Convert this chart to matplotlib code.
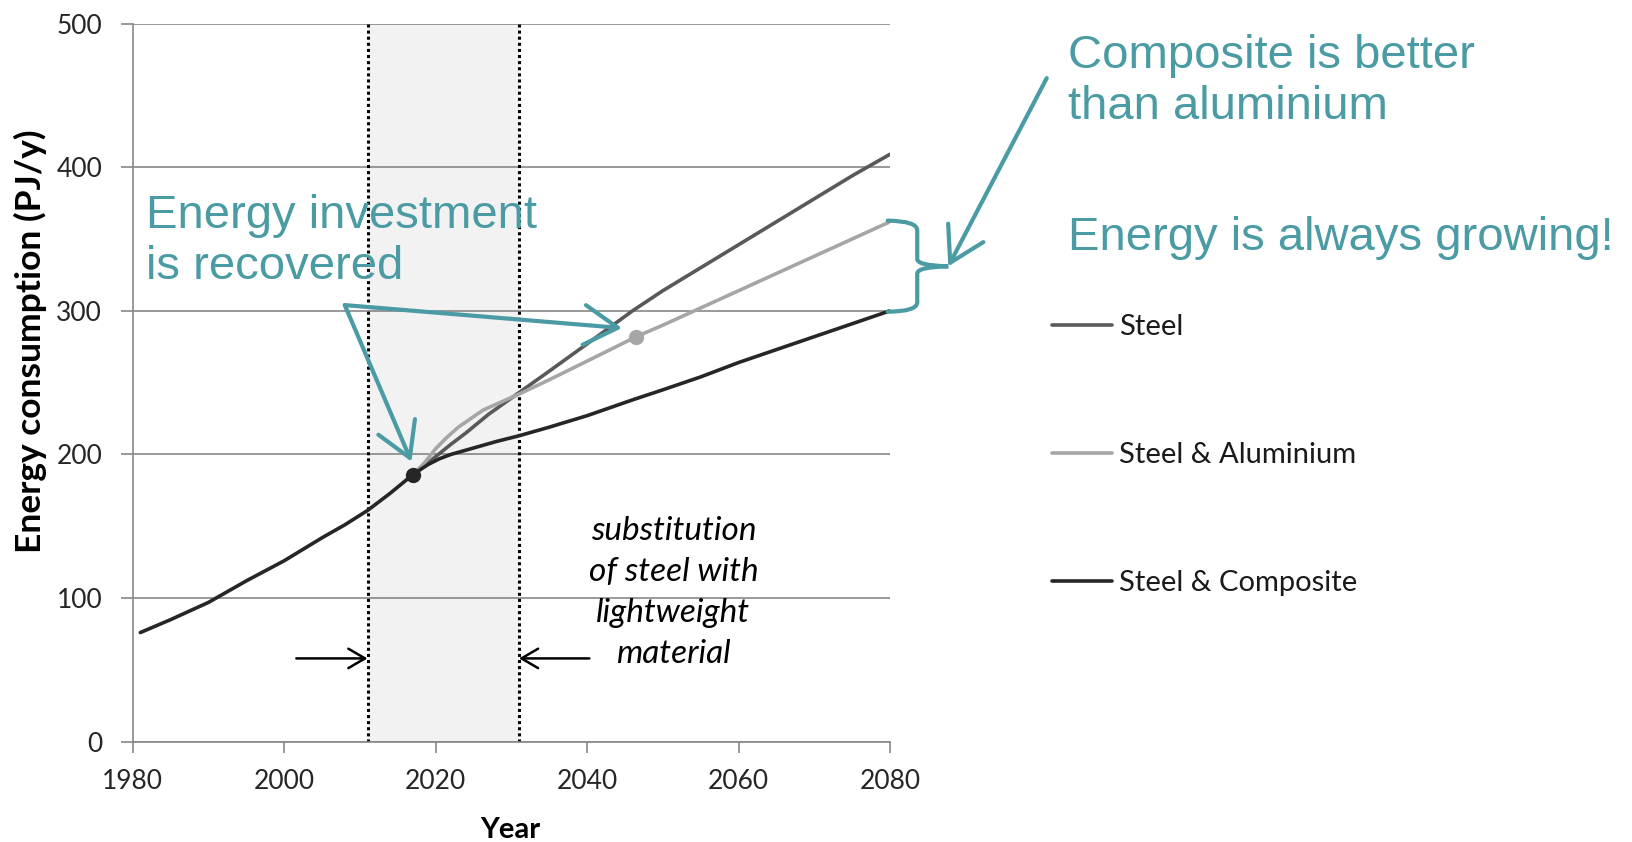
import numpy as np
import matplotlib
matplotlib.use("Agg")
from matplotlib import pyplot as plt
from matplotlib.path import Path
from matplotlib.patches import PathPatch

################################################################################
### Data
################################################################################

comp_years = [1981, 1985, 1990, 1995, 2000, 2005, 2008, 2011, 2014, 2017, 2019,
              2020.5, 2022, 2024, 2026, 2028, 2031, 2035, 2040, 2046, 2050, 2055,
              2060, 2065, 2070, 2075, 2080]
comp_vals = [76, 85, 97, 112, 126, 142, 151, 161, 173, 186, 193,
             197, 200, 203, 206, 209, 213, 219, 227, 238, 245, 254,
             264, 273, 282, 291, 300]

steel_years = [2017, 2018.5, 2020, 2022, 2024, 2027, 2031, 2035, 2040, 2046,
               2050, 2055, 2060, 2065, 2070, 2075, 2080]
steel_vals = [186, 192, 198.5, 207, 215, 228, 243, 258, 277, 300,
              314, 330, 346, 362, 378, 394, 409]

alu_years = [2017, 2018.5, 2020, 2021.5, 2023, 2026.3, 2031, 2035, 2040, 2046.5,
             2050, 2055, 2060, 2065, 2070, 2075, 2080]
alu_vals = [186, 194, 204, 212, 219, 231, 242, 252, 265, 282,
            290, 302, 314, 326, 338, 350, 362]

series_labels = ['Steel', 'Steel & Aluminium', 'Steel & Composite']

payback_comp = (2017, 186)
payback_alu = (2046.5, 282)

subst_start, subst_end = 2011, 2031

x_ticks = [1980, 2000, 2020, 2040, 2060, 2080]
y_ticks = [0, 100, 200, 300, 400, 500]

################################################################################
### Style
################################################################################

teal = '#4A9BA3'
grid_col = '#878787'
c_steel = '#595959'
c_alu = '#A6A6A6'
c_comp = '#262626'
label_font = 'Lato'

plt.rcParams.update({'font.family': label_font,
                     'xtick.labelsize': 19,
                     'ytick.labelsize': 19,
                     'xtick.color': grid_col,
                     'ytick.color': grid_col,
                     'xtick.labelcolor': '#262626',
                     'ytick.labelcolor': '#262626'})

fig = plt.figure(figsize=(16.33, 8.42), dpi=100)
ax = fig.add_axes([0.0813, 0.1191, 0.5450 - 0.0813, 0.972 - 0.1191])

# substitution period
ax.axvspan(subst_start, subst_end, color='#F2F2F2', zorder=0, lw=0)
for xv in (subst_start, subst_end):
    ax.axvline(xv, color='black', lw=2.2, ls=(0, (1, 1)), zorder=1)

# grid
ax.set_axisbelow(True)
ax.yaxis.grid(True, color=grid_col, lw=1.2)

l_steel, = ax.plot(steel_years, steel_vals, color=c_steel, lw=2.6, zorder=3,
                   solid_capstyle='round', solid_joinstyle='round')
l_alu, = ax.plot(alu_years, alu_vals, color=c_alu, lw=2.6, zorder=3,
                 solid_capstyle='round', solid_joinstyle='round')
l_comp, = ax.plot(comp_years, comp_vals, color=c_comp, lw=2.6, zorder=4,
                  solid_capstyle='round', solid_joinstyle='round')

ax.plot(*payback_comp, 'o', color=c_comp, ms=10, zorder=5)
ax.plot(*payback_alu, 'o', color=c_alu, ms=10, zorder=5)

ax.set_xlim(1980, 2080)
ax.set_ylim(0, 500)
ax.set_xticks(x_ticks)
ax.set_yticks(y_ticks)
for s in ('top', 'right'):
    ax.spines[s].set_visible(False)
for s in ('left', 'bottom'):
    ax.spines[s].set_color(grid_col)
    ax.spines[s].set_linewidth(1.2)
ax.tick_params(axis='y', length=9, width=1.2, pad=13)
ax.tick_params(axis='x', length=8, width=1.2, pad=12)

# axis labels
fig.text(30 / 1633, 1 - 341 / 842, 'Energy consumption (PJ/y)', rotation=90,
         ha='center', va='center', fontsize=25.5, fontweight='bold', color='black')
fig.text(510 / 1633, 1 - 830 / 842, 'Year', ha='center', va='center',
         fontsize=21, fontweight='bold', color='black')

# substitution note + arrows
ax.text(2051.4, 104, 'substitution\nof steel with\nlightweight\nmaterial',
        ha='center', va='center', fontsize=24, style='italic', color='black',
        linespacing=1.45, zorder=6)
small_arrow = dict(arrowstyle='->,head_length=0.6,head_width=0.35',
                   color='black', lw=1.8, mutation_scale=20, shrinkA=0, shrinkB=0)
ax.annotate('', xy=(subst_start, 58), xytext=(2001.6, 58), arrowprops=small_arrow)
ax.annotate('', xy=(subst_end, 58), xytext=(2040.3, 58), arrowprops=small_arrow)

# legend
ax.legend([l_steel, l_alu, l_comp], series_labels, loc='center left',
          bbox_to_anchor=(1052 / 1633, 1 - 455 / 842),
          bbox_transform=fig.transFigure, frameon=False, fontsize=21,
          handlelength=2.05, handletextpad=0.25, labelspacing=3.5,
          borderpad=0, borderaxespad=0, labelcolor='#1a1a1a')

# teal annotations
teal_arrow = dict(arrowstyle='->,head_length=1.1,head_width=0.65', color=teal,
                  lw=3, mutation_scale=22, shrinkA=0, shrinkB=0)
fig.text(146 / 1633, 1 - 279 / 842, 'Energy investment\nis recovered',
         ha='left', va='baseline', fontsize=34, color=teal,
         family='Liberation Sans', linespacing=1.2)
ax.annotate('', xy=(2016.8, 195), xytext=(2008.0, 304), arrowprops=teal_arrow,
            zorder=7)
ax.annotate('', xy=(2044.6, 288), xytext=(2008.0, 304), arrowprops=teal_arrow,
            zorder=7)

fig.text(1068 / 1633, 1 - 119 / 842, 'Composite is better\nthan aluminium',
         ha='left', va='baseline', fontsize=34, color=teal,
         family='Liberation Sans', linespacing=1.2)
fig.text(1068 / 1633, 1 - 250 / 842, 'Energy is always growing!',
         ha='left', va='baseline', fontsize=34, color=teal,
         family='Liberation Sans')
ax.annotate('', xy=(2087.7, 331), xytext=(2100.7, 462), arrowprops=teal_arrow,
            annotation_clip=False, zorder=7)

# curly brace between aluminium and composite end points
brace = Path([(2079.7, 362.8), (2083.6, 362.5), (2083.6, 356),
              (2083.6, 336), (2083.6, 331.5), (2087.7, 331),
              (2083.6, 330.5), (2083.6, 326),
              (2083.6, 306), (2083.6, 299.5), (2079.7, 299.4)],
             [Path.MOVETO, Path.CURVE3, Path.CURVE3,
              Path.LINETO, Path.CURVE3, Path.CURVE3,
              Path.CURVE3, Path.CURVE3,
              Path.LINETO, Path.CURVE3, Path.CURVE3])
ax.add_patch(PathPatch(brace, fill=False, edgecolor=teal, lw=3,
                       clip_on=False, zorder=7, capstyle='round'))

fig.savefig('out.png', dpi=100)
